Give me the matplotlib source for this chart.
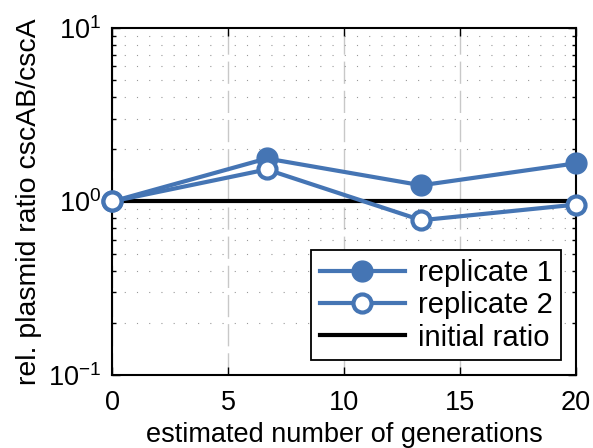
import matplotlib
matplotlib.use("Agg")
import matplotlib.pyplot as plt
from matplotlib.ticker import LogLocator, NullFormatter

generations = [0, 6.67, 13.33, 20]
replicate1 = [1.0, 1.77, 1.24, 1.66]
replicate2 = [1.0, 1.53, 0.78, 0.96]
initial_x = [0, 20]
initial_ratio = [1.0, 1.0]
xticks = [0, 5, 10, 15, 20]

plt.rcParams['font.family'] = ['Liberation Sans', 'DejaVu Sans']
plt.rcParams['mathtext.fontset'] = 'custom'
plt.rcParams['mathtext.rm'] = 'Liberation Sans'
plt.rcParams['mathtext.it'] = 'Liberation Sans'
plt.rcParams['mathtext.default'] = 'regular'
blue = '#4575B4'
fs = 19.5

fig = plt.figure(figsize=(5.93, 4.48), dpi=100)
ax = fig.add_axes([112/593, 1-375/448, (576-112)/593, (375-28)/448])

ax.set_yscale('log')
ax.set_xlim(0, 20)
ax.set_ylim(0.1, 10)

ax.yaxis.set_minor_locator(LogLocator(base=10, subs=range(2, 10)))
ax.yaxis.set_minor_formatter(NullFormatter())
ax.grid(True, which='minor', axis='y', linestyle=(0, (1, 10)), color='#999999', linewidth=0.8)
ax.grid(True, which='major', axis='x', linestyle=(0, (16, 5)), color='#c8c8c8', linewidth=1.0)

ax.plot(initial_x, initial_ratio, color='black', linewidth=3, label='initial ratio', zorder=3)
ax.plot(generations, replicate1, color=blue, linewidth=3, marker='o', markersize=15,
        markerfacecolor=blue, markeredgecolor=blue, label='replicate 1', clip_on=False, zorder=4)
ax.plot(generations, replicate2, color=blue, linewidth=3, marker='o', markersize=13,
        markerfacecolor='white', markeredgecolor=blue, markeredgewidth=3, label='replicate 2',
        clip_on=False, zorder=4)

ax.set_xticks(xticks)
ax.set_xticklabels([str(t) for t in xticks])
ax.tick_params(which='both', direction='in', top=True, right=True, labelsize=fs)
ax.tick_params(axis='x', pad=11)
ax.tick_params(axis='y', pad=8)
ax.tick_params(which='major', length=6, width=1)
ax.tick_params(which='minor', length=3, width=1)
for s in ax.spines.values():
    s.set_linewidth(1.5)

ax.set_xlabel('estimated number of generations', fontsize=fs, labelpad=4)
ax.set_ylabel('rel. plasmid ratio cscAB/cscA', fontsize=20.5, labelpad=4)

h, l = ax.get_legend_handles_labels()
order = [1, 2, 0]
leg = ax.legend([h[i] for i in order], [l[i] for i in order], loc='lower right',
                fontsize=21, frameon=True, fancybox=False, edgecolor='black', framealpha=1,
                handlelength=2.9, handletextpad=0.45, borderpad=0.3, labelspacing=0.15,
                borderaxespad=0.5)
leg.get_frame().set_linewidth(1.3)

fig.savefig('out.png', dpi=100)
